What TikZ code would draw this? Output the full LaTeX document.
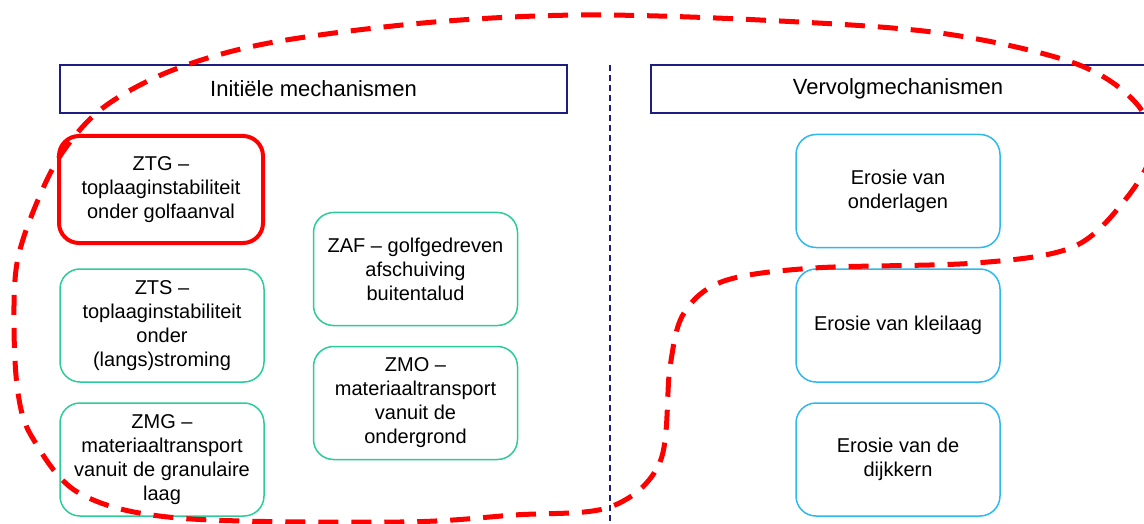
\documentclass[tikz,border=0pt]{standalone}
\usepackage{fontspec}
\setmainfont{Liberation Sans}
\usetikzlibrary{positioning}
\definecolor{hdrblue}{RGB}{30,30,128}
\definecolor{initgreen}{RGB}{44,204,154}
\definecolor{vervblue}{RGB}{45,185,240}
\tikzset{
    header/.style = {rectangle,fill=none,draw=hdrblue,line width=1.5pt,text=black,minimum width=507pt,minimum height=48pt,font=\fontsize{22}{26}\selectfont},
    mech/.style = {rounded corners=20pt, rectangle,fill=none,draw=initgreen,line width=1.5pt,text=black,align=center,minimum width=204pt, minimum height=113pt,font=\fontsize{20}{24}\selectfont},
    vervolg/.style = {mech,draw=vervblue},
    focus/.style = {mech,draw=red,line width=4pt,minimum height=107pt},
    divider/.style = {draw=hdrblue,line width=1.2pt,dash pattern=on 6pt off 4pt},
    loop/.style = {draw=red,line width=5pt,dash pattern=on 20pt off 13pt}
}
\begin{document}
\begin{tikzpicture}[x=1pt,y=-1pt,on grid,node distance=134pt]
        \useasboundingbox (0,0) rectangle (1144,524);

        %% Headers
        \node[header]  (hinit) at (313.5,89)   {Initiële mechanismen};
        \node[header,minimum width=494pt]  (hverv) at (898,89)   {Vervolgmechanismen};
        \coordinate (dtop) at (610,65);
        \coordinate (dbot) at (610,524);
        \path[divider] (dtop) -- (dbot);

        %% Initiele mechanismen
        \node[focus]  (ztg) at (161,189.5)    {ZTG –\\toplaaginstabiliteit\\onder golfaanval};
        \node[mech]   (zts) at (162,325.5)    {ZTS –\\toplaaginstabiliteit\\onder\\(langs)stroming};
        \node[mech]   (zmg) [below=of zts]    {ZMG –\\materiaaltransport\\vanuit de granulaire\\laag};
        \node[mech]   (zaf) at (415.5,269)    {ZAF – golfgedreven\\afschuiving\\buitentalud};
        \node[mech]   (zmo) [below=of zaf]    {ZMO –\\materiaaltransport\\vanuit de\\ondergrond};

        %% Vervolgmechanismen
        \node[vervolg]  (eond) at (898,191)     {Erosie van\\onderlagen};
        \node[vervolg]  (ekl) at (898,325.5)    {Erosie van kleilaag};
        \node[vervolg]  (edk) [below=of ekl]    {Erosie van de\\dijkkern};

        %% Loop
        \draw[loop] plot[smooth cycle,tension=0.55] coordinates {
                (610,507) (660,462) (670,367) (684,313) (724,281) (814,268)
                (976,263) (1073,247) (1125,200) (1152,150) (1136,103) (1074,63)
                (940,33) (760,20) (580,15) (423,23) (269,43) (173,70) (104,107)
                (62,153) (35,207) (17,263) (14,327) (18,393) (32,437) (79,493)
                (178,518) (400,522) (514,515)};
\end{tikzpicture}
\end{document}
